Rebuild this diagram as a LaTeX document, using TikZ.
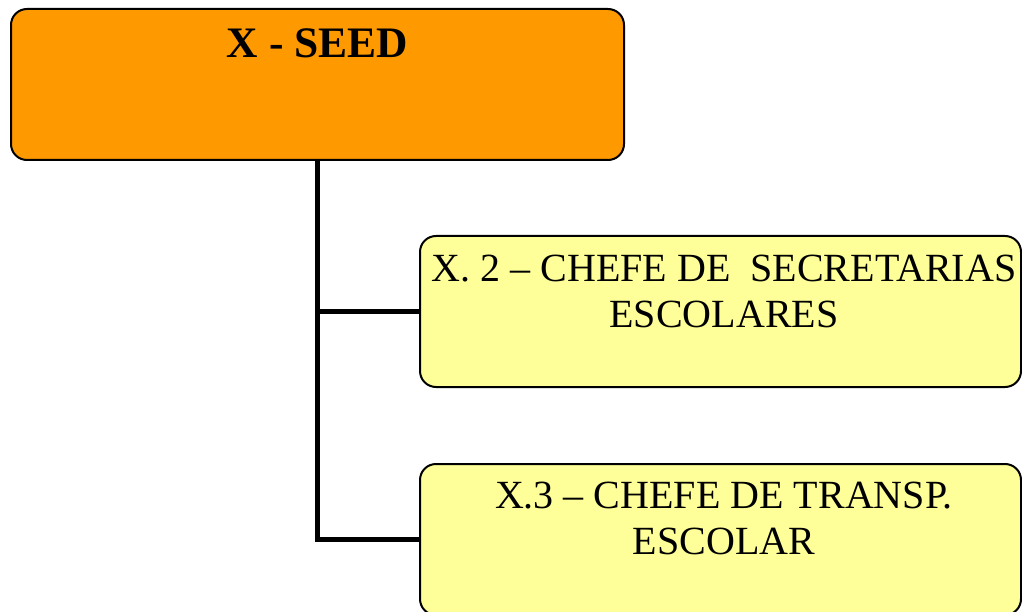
\documentclass[tikz,border=0pt]{standalone}
\usepackage{fontspec}
\setmainfont{Liberation Serif}
\usetikzlibrary{positioning}
\definecolor{laranja}{HTML}{FF9900}
\definecolor{amarelo}{HTML}{FFFF99}
\begin{document}
\begin{tikzpicture}[x=1pt, y=-1pt,
  caixa/.style={draw, line width=2pt, rounded corners=16pt, minimum width=601pt, minimum height=151pt, inner sep=0pt},
  texto/.style={inner sep=0pt, align=center, font=\fontsize{40}{46}\selectfont},
  ramo/.style={line width=5.5pt}]
\useasboundingbox (0,0) rectangle (1022,612);

\node[caixa, fill=laranja, minimum width=613pt] (seed) at (317.5,84.5) {};
\node[caixa, fill=amarelo] (sec) at (720.5,311.5) {};
\node[caixa, fill=amarelo] (transp) at (720.5,539.5) {};

\draw[ramo] (seed.south) |- (transp.west);
\draw[ramo] (seed.south |- sec.west) -- (sec.west);

\node[texto, font=\fontsize{43.5}{48}\selectfont\bfseries, below=20.5pt of seed.north] (tseed) {X - SEED};
\node[texto, below=19.5pt of sec.north, xshift=3.5pt] (tsec) {X. 2 – CHEFE DE~ SECRETARIAS\\ESCOLARES};
\node[texto, below=18.5pt of transp.north, xshift=3.5pt] (ttransp) {X.3 – CHEFE DE TRANSP.\\ESCOLAR};
\end{tikzpicture}
\end{document}
